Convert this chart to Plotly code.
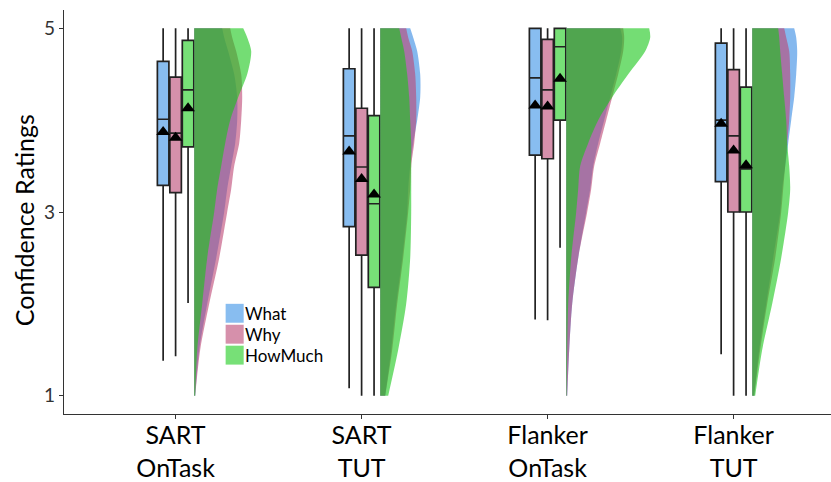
import plotly.graph_objects as go

# ---------------- data ----------------
CATEGORIES = ["SART<br>OnTask", "SART<br>TUT", "Flanker<br>OnTask", "Flanker<br>TUT"]
SERIES = ["What", "Why", "HowMuch"]
Y_TITLE = "Confidence Ratings"
Y_TICKS = [1, 3, 5]
Y_TICK_LABELS = ["1", "3", "5"]

# box statistics (per category)
WHAT_LOW = [1.38, 1.08, 1.83, 1.45]
WHAT_Q1 = [3.29, 2.84, 3.62, 3.33]
WHAT_MED = [4.01, 3.83, 4.46, 4.00]
WHAT_Q3 = [4.64, 4.56, 5.00, 4.84]
WHAT_HIGH = [5.0, 5.0, 5.0, 5.0]
WHAT_MEAN = [3.87, 3.66, 4.16, 3.96]

WHY_LOW = [1.43, 1.0, 1.82, 1.0]
WHY_Q1 = [3.21, 2.53, 3.58, 3.0]
WHY_MED = [3.86, 3.49, 4.33, 3.83]
WHY_Q3 = [4.47, 4.13, 4.88, 4.55]
WHY_HIGH = [5.0, 5.0, 5.0, 5.0]
WHY_MEAN = [3.81, 3.36, 4.15, 3.67]

HOW_LOW = [2.01, 1.0, 2.61, 1.0]
HOW_Q1 = [3.71, 2.18, 4.0, 3.0]
HOW_MED = [4.33, 3.09, 4.80, 3.47]
HOW_Q3 = [4.87, 4.05, 5.0, 4.36]
HOW_HIGH = [5.0, 5.0, 5.0, 5.0]
HOW_MEAN = [4.13, 3.19, 4.45, 3.51]

# half-violin density profiles (relative widths) read at these rating levels
DENS_Y = [1.0, 1.5, 2.0, 2.5, 3.0, 3.25, 3.5, 3.75, 4.0, 4.25, 4.5, 4.75, 4.9, 5.0]
WHAT_DENS = [
    [1, 5, 13, 22, 30, 33, 37, 41, 43, 43, 40, 34, 30, 28],
    [5, 11, 16, 22, 27, 28, 30, 33, 37, 40, 40, 37, 33, 30],
    [1, 3, 6, 12, 20, 24, 27, 32, 38, 44, 50, 55, 56, 54],
    [2, 7, 14, 21, 28, 30, 33, 36, 39, 42, 44, 45, 44, 42],
]
WHY_DENS = [
    [1, 6, 15, 25, 33, 37, 40, 45, 47, 48, 47, 42, 38, 36],
    [5, 12, 17, 23, 28, 30, 31, 34, 36, 36, 35, 32, 28, 26],
    [1, 3, 6, 12, 21, 25, 28, 34, 40, 46, 52, 57, 58, 57],
    [2, 8, 15, 23, 29, 31, 33, 35, 37, 38, 38, 37, 34, 32],
]
HOW_DENS = [
    [1, 3, 8, 13, 20, 23, 27, 31, 36, 44, 53, 57, 53, 49],
    [8, 18, 26, 30, 31, 31, 31, 31, 30, 29, 27, 24, 21, 19],
    [0.5, 1, 2, 5, 10, 12, 14, 22, 32, 46, 62, 79, 84, 83],
    [3, 10, 20, 29, 36, 38, 37, 35, 34, 32, 30, 28, 27, 26],
]

# ---------------- style ----------------
FONT = "Lato"
BOX_FILL = ["#88BDF0", "#D690AB", "#77E077"]
VIO_FILL = ["rgba(52,137,227,0.6)", "rgba(188,68,115,0.6)", "rgba(23,198,23,0.6)"]
BOX_OFF = [-0.067, 0.0, 0.067]
BOX_W = 0.062
BASE_OFF = 0.1
VIO_SCALE = 1.0 / 186.0

stats = [
    (WHAT_LOW, WHAT_Q1, WHAT_MED, WHAT_Q3, WHAT_HIGH, WHAT_MEAN, WHAT_DENS),
    (WHY_LOW, WHY_Q1, WHY_MED, WHY_Q3, WHY_HIGH, WHY_MEAN, WHY_DENS),
    (HOW_LOW, HOW_Q1, HOW_MED, HOW_Q3, HOW_HIGH, HOW_MEAN, HOW_DENS),
]

xpos = list(range(1, len(CATEGORIES) + 1))
fig = go.Figure()

# half violins
for s, st in enumerate(stats):
    dens = st[6]
    for i, c in enumerate(xpos):
        base = c + BASE_OFF
        fig.add_trace(go.Scatter(
            x=[base, base], y=[DENS_Y[0], DENS_Y[-1]], mode="lines",
            line=dict(width=0), showlegend=False, hoverinfo="skip"))
        fig.add_trace(go.Scatter(
            x=[base + d * VIO_SCALE for d in dens[i]], y=DENS_Y, mode="lines",
            line=dict(width=0, shape="spline", smoothing=0.8),
            fill="tonextx", fillcolor=VIO_FILL[s], showlegend=False,
            hoverinfo="skip"))

# boxes
for s, st in enumerate(stats):
    low, q1, med, q3, high, mean, _ = st
    fig.add_trace(go.Box(
        x=[c + BOX_OFF[s] for c in xpos], q1=q1, median=med, q3=q3,
        lowerfence=low, upperfence=high, width=BOX_W,
        fillcolor=BOX_FILL[s], line=dict(color="#222222", width=1.7),
        whiskerwidth=0, boxpoints=False, showlegend=False, name=SERIES[s]))

# means
for s, st in enumerate(stats):
    mean = st[5]
    fig.add_trace(go.Scatter(
        x=[c + BOX_OFF[s] for c in xpos], y=mean, mode="markers",
        marker=dict(symbol="triangle-up", size=12, color="black"),
        showlegend=False))

# manual legend
LEG_X0, LEG_X1 = 1.269, 1.366
LEG_Y_TOP = [2.0, 1.772, 1.544]
LEG_H = 0.206
for s, name in enumerate(SERIES):
    fig.add_shape(type="rect", xref="x", yref="y",
                  x0=LEG_X0, x1=LEG_X1, y0=LEG_Y_TOP[s] - LEG_H, y1=LEG_Y_TOP[s],
                  fillcolor=BOX_FILL[s], line=dict(width=0))
    fig.add_annotation(x=LEG_X1 + 0.004, y=LEG_Y_TOP[s] - LEG_H / 2, xref="x", yref="y",
                       text=name, showarrow=False, xanchor="left", yanchor="middle",
                       borderpad=0,
                       font=dict(family=FONT, size=17, color="black"))

# y-axis title
fig.add_annotation(x=-0.052, y=0.48, xref="paper", yref="paper", text=Y_TITLE,
                   textangle=-90, showarrow=False, xanchor="center", yanchor="middle",
                   font=dict(family=FONT, size=25, color="black"))

fig.update_layout(
    width=831, height=482,
    margin=dict(l=64, r=0, t=10, b=68),
    plot_bgcolor="white", paper_bgcolor="white",
    boxmode="overlay",
    font=dict(family=FONT, color="#222222"),
    xaxis=dict(range=[0.4, 0.4 + 767 / 186], tickvals=xpos, ticktext=CATEGORIES,
               automargin=False, ticklabelstandoff=-5,
               showgrid=False, zeroline=False, showline=True, linecolor="#333333",
               linewidth=1.2, ticks="outside", ticklen=4, tickcolor="#333333",
               tickfont=dict(family=FONT, size=25, color="black")),
    yaxis=dict(range=[0.8, 5.2], tickvals=Y_TICKS, ticktext=Y_TICK_LABELS,
               automargin=False,
               showgrid=False, zeroline=False, showline=True, linecolor="#333333",
               linewidth=1.2, ticks="outside", ticklen=4, tickcolor="#333333",
               tickfont=dict(family=FONT, size=19, color="#333333")),
)

fig.write_html("out.html")
